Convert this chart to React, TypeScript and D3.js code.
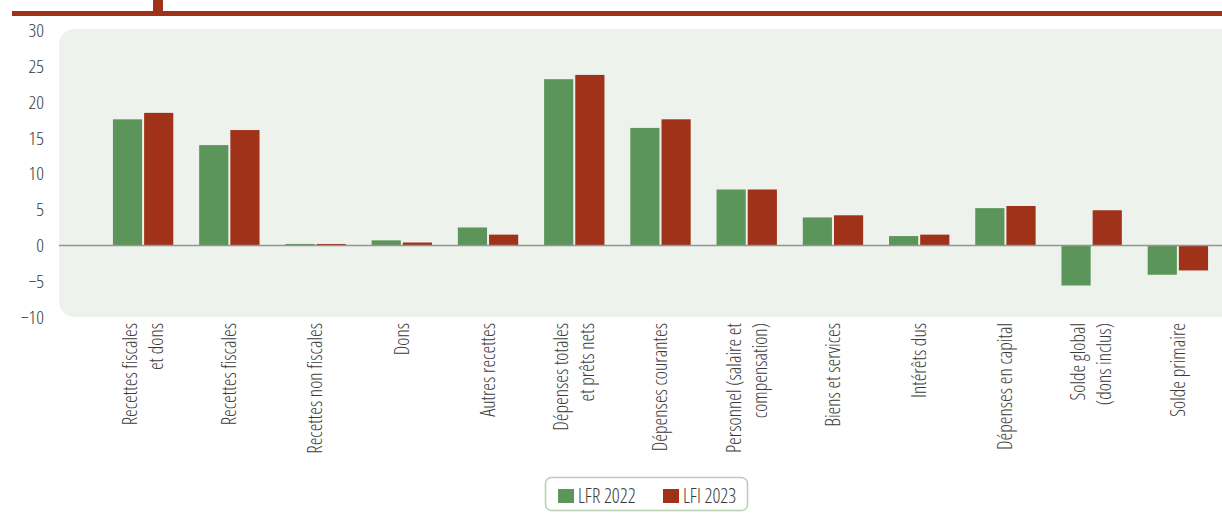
import React from "react";
import * as d3 from "d3";

const categories: string[] = [
  "Recettes fiscales\net dons",
  "Recettes fiscales",
  "Recettes non fiscales",
  "Dons",
  "Autres recettes",
  "Dépenses totales\net prêts nets",
  "Dépenses courantes",
  "Personnel (salaire et\ncompensation)",
  "Biens et services",
  "Intérêts dus",
  "Dépenses en capital",
  "Solde global\n(dons inclus)",
  "Solde primaire",
];
const lfr2022: number[] = [17.6, 14.0, 0.2, 0.7, 2.5, 23.2, 16.4, 7.8, 3.9, 1.3, 5.2, -5.6, -4.1];
const lfi2023: number[] = [18.5, 16.1, 0.2, 0.4, 1.5, 23.8, 17.6, 7.8, 4.2, 1.5, 5.5, 4.9, -3.5];
const yTicks: number[] = [30, 25, 20, 15, 10, 5, 0, -5, -10];
const seriesNames: string[] = ["LFR 2022", "LFI 2023"];

const W = 1222;
const H = 516;
const GREEN = "#5b9559";
const RED = "#a0321a";
const FONT = "'Open Sans', sans-serif";
const TEXT = "#3a3a3a";

export default function App() {
  const x = d3.scaleBand<number>().domain(d3.range(categories.length)).range([100, 1221]).paddingInner(0.3).paddingOuter(0.15);
  const y = d3.scaleLinear().domain([-10, 30]).range([317, 30.5]);
  const bw = x.bandwidth();
  const gap = 2;
  const barW = (bw - gap) / 2;
  const y0 = y(0);
  const series = [lfr2022, lfi2023];
  const colors = [GREEN, RED];
  const fs = 19.5;
  const lh = 26;

  return (
    <svg width={W} height={H} style={{ position: "absolute", left: 0, top: 0, fontStretch: "75%" }} fontFamily={FONT} fontWeight={300}>
      {/* header */}
      <rect x={12} y={11} width={W - 12} height={5} fill={RED} />
      <rect x={153} y={0} width={10} height={13} fill={RED} />
      {/* panel background */}
      <rect x={59} y={29} width={W - 59 + 30} height={288} rx={15} ry={15} fill="#edf2ec" />
      {/* y tick labels */}
      {yTicks.map((t) => (
        <text key={t} x={44} y={y(t)} dy="0.35em" textAnchor="end" fontSize={19} fill={TEXT}>
          {t < 0 ? "\u2212" + Math.abs(t) : String(t)}
        </text>
      ))}
      {/* bars */}
      {series.map((vals, si) =>
        vals.map((v, i) => {
          const bx = (x(i) as number) + si * (barW + gap);
          const yy = y(v);
          return (
            <rect
              key={si + "-" + i}
              x={bx}
              y={Math.min(yy, y0)}
              width={barW}
              height={Math.abs(yy - y0)}
              fill={colors[si]}
            />
          );
        })
      )}
      {/* zero line */}
      <line x1={59} x2={W} y1={y0} y2={y0} stroke="#959595" strokeWidth={1.5} />
      {/* category labels */}
      {categories.map((c, i) => {
        const cx = (x(i) as number) + bw / 2;
        const lines = c.split("\n");
        const n = lines.length;
        return (
          <text
            key={c}
            transform={`translate(${cx},323) rotate(-90)`}
            textAnchor="end"
            fontSize={fs}
            fill={TEXT}
          >
            {lines.map((l, li) => (
              <tspan key={li} x={0} y={(li - (n - 1) / 2) * lh + fs * 0.35}>
                {l}
              </tspan>
            ))}
          </text>
        );
      })}
      {/* legend */}
      <rect x={545.5} y={477.5} width={202} height={33} rx={6} ry={6} fill="#ffffff" stroke="#b9d0b5" strokeWidth={1.5} />
      {seriesNames.map((s, i) => {
        const lx = i === 0 ? 558 : 663;
        return (
          <g key={s}>
            <rect x={lx} y={489} width={16} height={14} fill={colors[i]} />
            <text x={lx + 20} y={496} dy="0.35em" fontSize={19.5} fill={TEXT}>
              {s}
            </text>
          </g>
        );
      })}
    </svg>
  );
}
